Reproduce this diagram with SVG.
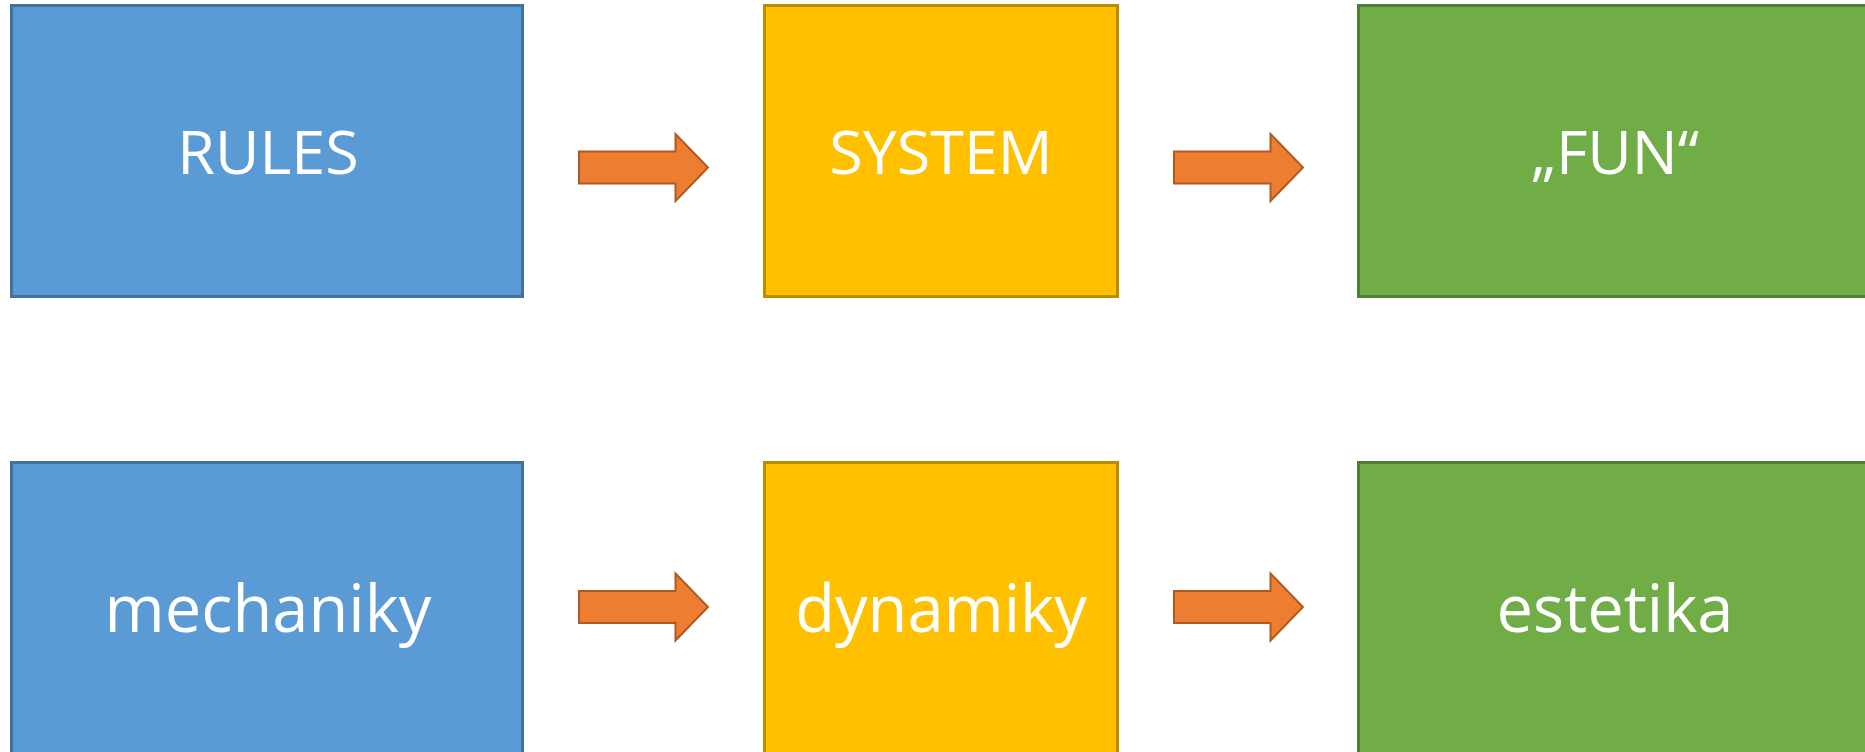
<svg xmlns="http://www.w3.org/2000/svg" width="1865" height="752" viewBox="0 0 1865 752">
  <defs>
    <style>
      .box { stroke-width: 3; }
      .blue { fill: #5B9BD5; stroke: #41719C; }
      .yellow { fill: #FFC000; stroke: #BC8C00; }
      .green { fill: #70AD47; stroke: #507E32; }
      .label { font-family: "Open Sans", "Liberation Sans", sans-serif; fill: #FFFFFF; text-anchor: middle; }
      .caps { font-size: 61px; }
      .lower { font-size: 65px; }
      .arrow { fill: #ED7D31; stroke: #AE5A21; stroke-width: 2; stroke-linejoin: miter; }
    </style>
    <!-- block arrow pointing right, origin at the left end of its shaft centre line -->
    <path id="blockArrow" d="M0,-16 H96.5 V-33.5 L129,0 L96.5,33.5 V16 H0 Z"/>
  </defs>
  <rect width="1865" height="752" fill="#FFFFFF"/>

  <!-- top row -->
  <g id="rules">
    <rect class="box blue" x="11.5" y="5.5" width="511" height="291"/>
    <text class="label caps" x="268" y="173.5">RULES</text>
  </g>
  <g id="system">
    <rect class="box yellow" x="764.5" y="5.5" width="353" height="291"/>
    <text class="label caps" x="941" y="173.5">SYSTEM</text>
  </g>
  <g id="fun">
    <rect class="box green" x="1358.5" y="5.5" width="513" height="291"/>
    <text class="label caps" x="1615" y="173.5">„FUN“</text>
  </g>

  <!-- bottom row -->
  <g id="mechaniky">
    <rect class="box blue" x="11.5" y="462.5" width="511" height="291"/>
    <text class="label lower" x="268" y="631.5">mechaniky</text>
  </g>
  <g id="dynamiky">
    <rect class="box yellow" x="764.5" y="462.5" width="353" height="291"/>
    <text class="label lower" x="941" y="631.5">dynamiky</text>
  </g>
  <g id="estetika">
    <rect class="box green" x="1358.5" y="462.5" width="513" height="291"/>
    <text class="label lower" x="1615" y="631.5">estetika</text>
  </g>

  <!-- connectors -->
  <g id="connectors">
    <use href="#blockArrow" class="arrow" x="579" y="167.5"/>
    <use href="#blockArrow" class="arrow" x="1174" y="167.5"/>
    <use href="#blockArrow" class="arrow" x="579" y="607"/>
    <use href="#blockArrow" class="arrow" x="1174" y="607"/>
  </g>
</svg>
